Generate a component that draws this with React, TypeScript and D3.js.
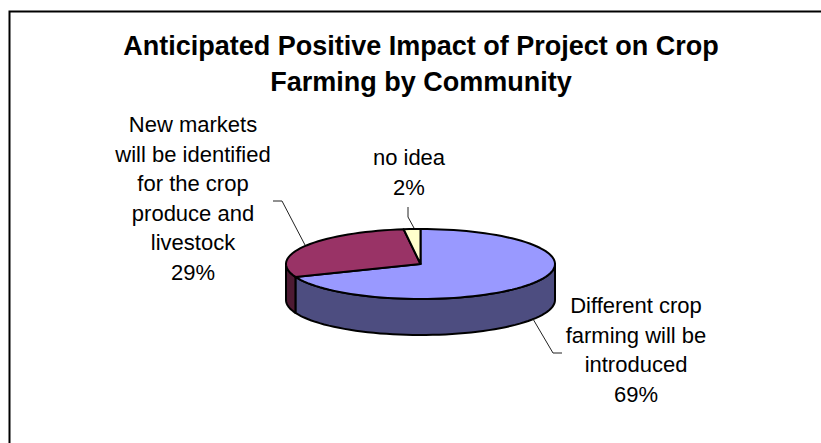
import React from "react";
import * as d3 from "d3";

const categories = ["Different crop farming will be introduced", "New markets will be identified for the crop produce and livestock", "no idea"];
const values = [69, 29, 2];
const topColors = ["#9999FF", "#993366", "#FFFFCC"];
const sideColors = ["#4D4D80", "#4D1A33", "#808066"];
const titleLines = ["Anticipated Positive Impact of Project on Crop", "Farming by Community"];
const labelBlocks = [
  { lines: ["Different crop", "farming will be", "introduced", "69%"], x: 636, y: 313 },
  { lines: ["New markets", "will be identified", "for the crop", "produce and", "livestock", "29%"], x: 193, y: 132 },
  { lines: ["no idea", "2%"], x: 409, y: 165 },
];
const leaders = [
  [[533, 319], [553, 353], [562, 353]],
  [[305, 245], [282, 201], [273, 201]],
  [[414, 228], [408, 217], [408, 207]],
];

const W = 821, H = 443;
const cx = 420.5, cy = 264, rx = 134.5, ry = 35, depth = 36;
const font = "'Liberation Sans', Arial, sans-serif";

const rxScale = d3.scaleLinear().domain([0, 1]).range([0, rx]);
const ryScale = d3.scaleLinear().domain([0, 1]).range([0, ry]);
const px = (a: number) => cx + rxScale(Math.sin(a));
const py = (a: number) => cy - ryScale(Math.cos(a));
const line = d3.line<[number, number]>();

function sample(a0: number, a1: number, dy = 0): [number, number][] {
  const n = Math.max(2, Math.ceil(Math.abs(a1 - a0) / 0.05));
  return d3.range(n + 1).map((i) => {
    const a = a0 + ((a1 - a0) * i) / n;
    return [px(a), py(a) + dy] as [number, number];
  });
}

export default function App() {
  const arcs = d3.pie<number>().sort(null)(values);
  return (
    <svg width={W} height={H} style={{ position: "absolute", left: 0, top: 0 }}>
      <rect width={W} height={H} fill="#fff" />
      <path d={`M9.5 ${H}V11.5H${W}`} fill="none" stroke="#000" strokeWidth={2} />
      {titleLines.map((t, i) => (
        <text key={t} x={421} y={55 + i * 35.5} textAnchor="middle" fontFamily={font} fontSize={27} fontWeight="bold">{t}</text>
      ))}
      {arcs.map((d, i) => {
        // visible front wall lies between 90deg and 270deg
        const a0 = Math.max(d.startAngle, Math.PI / 2);
        const a1 = Math.min(d.endAngle, (3 * Math.PI) / 2);
        if (a1 <= a0) return null;
        const top = sample(a0, a1);
        const bottom = sample(a1, a0, depth);
        return <path key={i} d={line([...top, ...bottom])! + "Z"} fill={sideColors[i]} stroke="#000" strokeWidth={2} strokeLinejoin="round" />;
      })}
      {arcs.map((d, i) => (
        <path key={i} d={line([[cx, cy], ...sample(d.startAngle, d.endAngle)])! + "Z"} fill={topColors[i]} stroke="#000" strokeWidth={2} strokeLinejoin="round">
          <title>{categories[i]}</title>
        </path>
      ))}
      {leaders.map((l, i) => (
        <path key={i} d={line(l as [number, number][])!} fill="none" stroke="#222" strokeWidth={1} />
      ))}
      {labelBlocks.map((b, i) => (
        <text key={i} fontFamily={font} fontSize={22} textAnchor="middle" fill="#000">
          {b.lines.map((t, j) => (
            <tspan key={j} x={b.x} y={b.y + j * 29.6}>{t}</tspan>
          ))}
        </text>
      ))}
    </svg>
  );
}
